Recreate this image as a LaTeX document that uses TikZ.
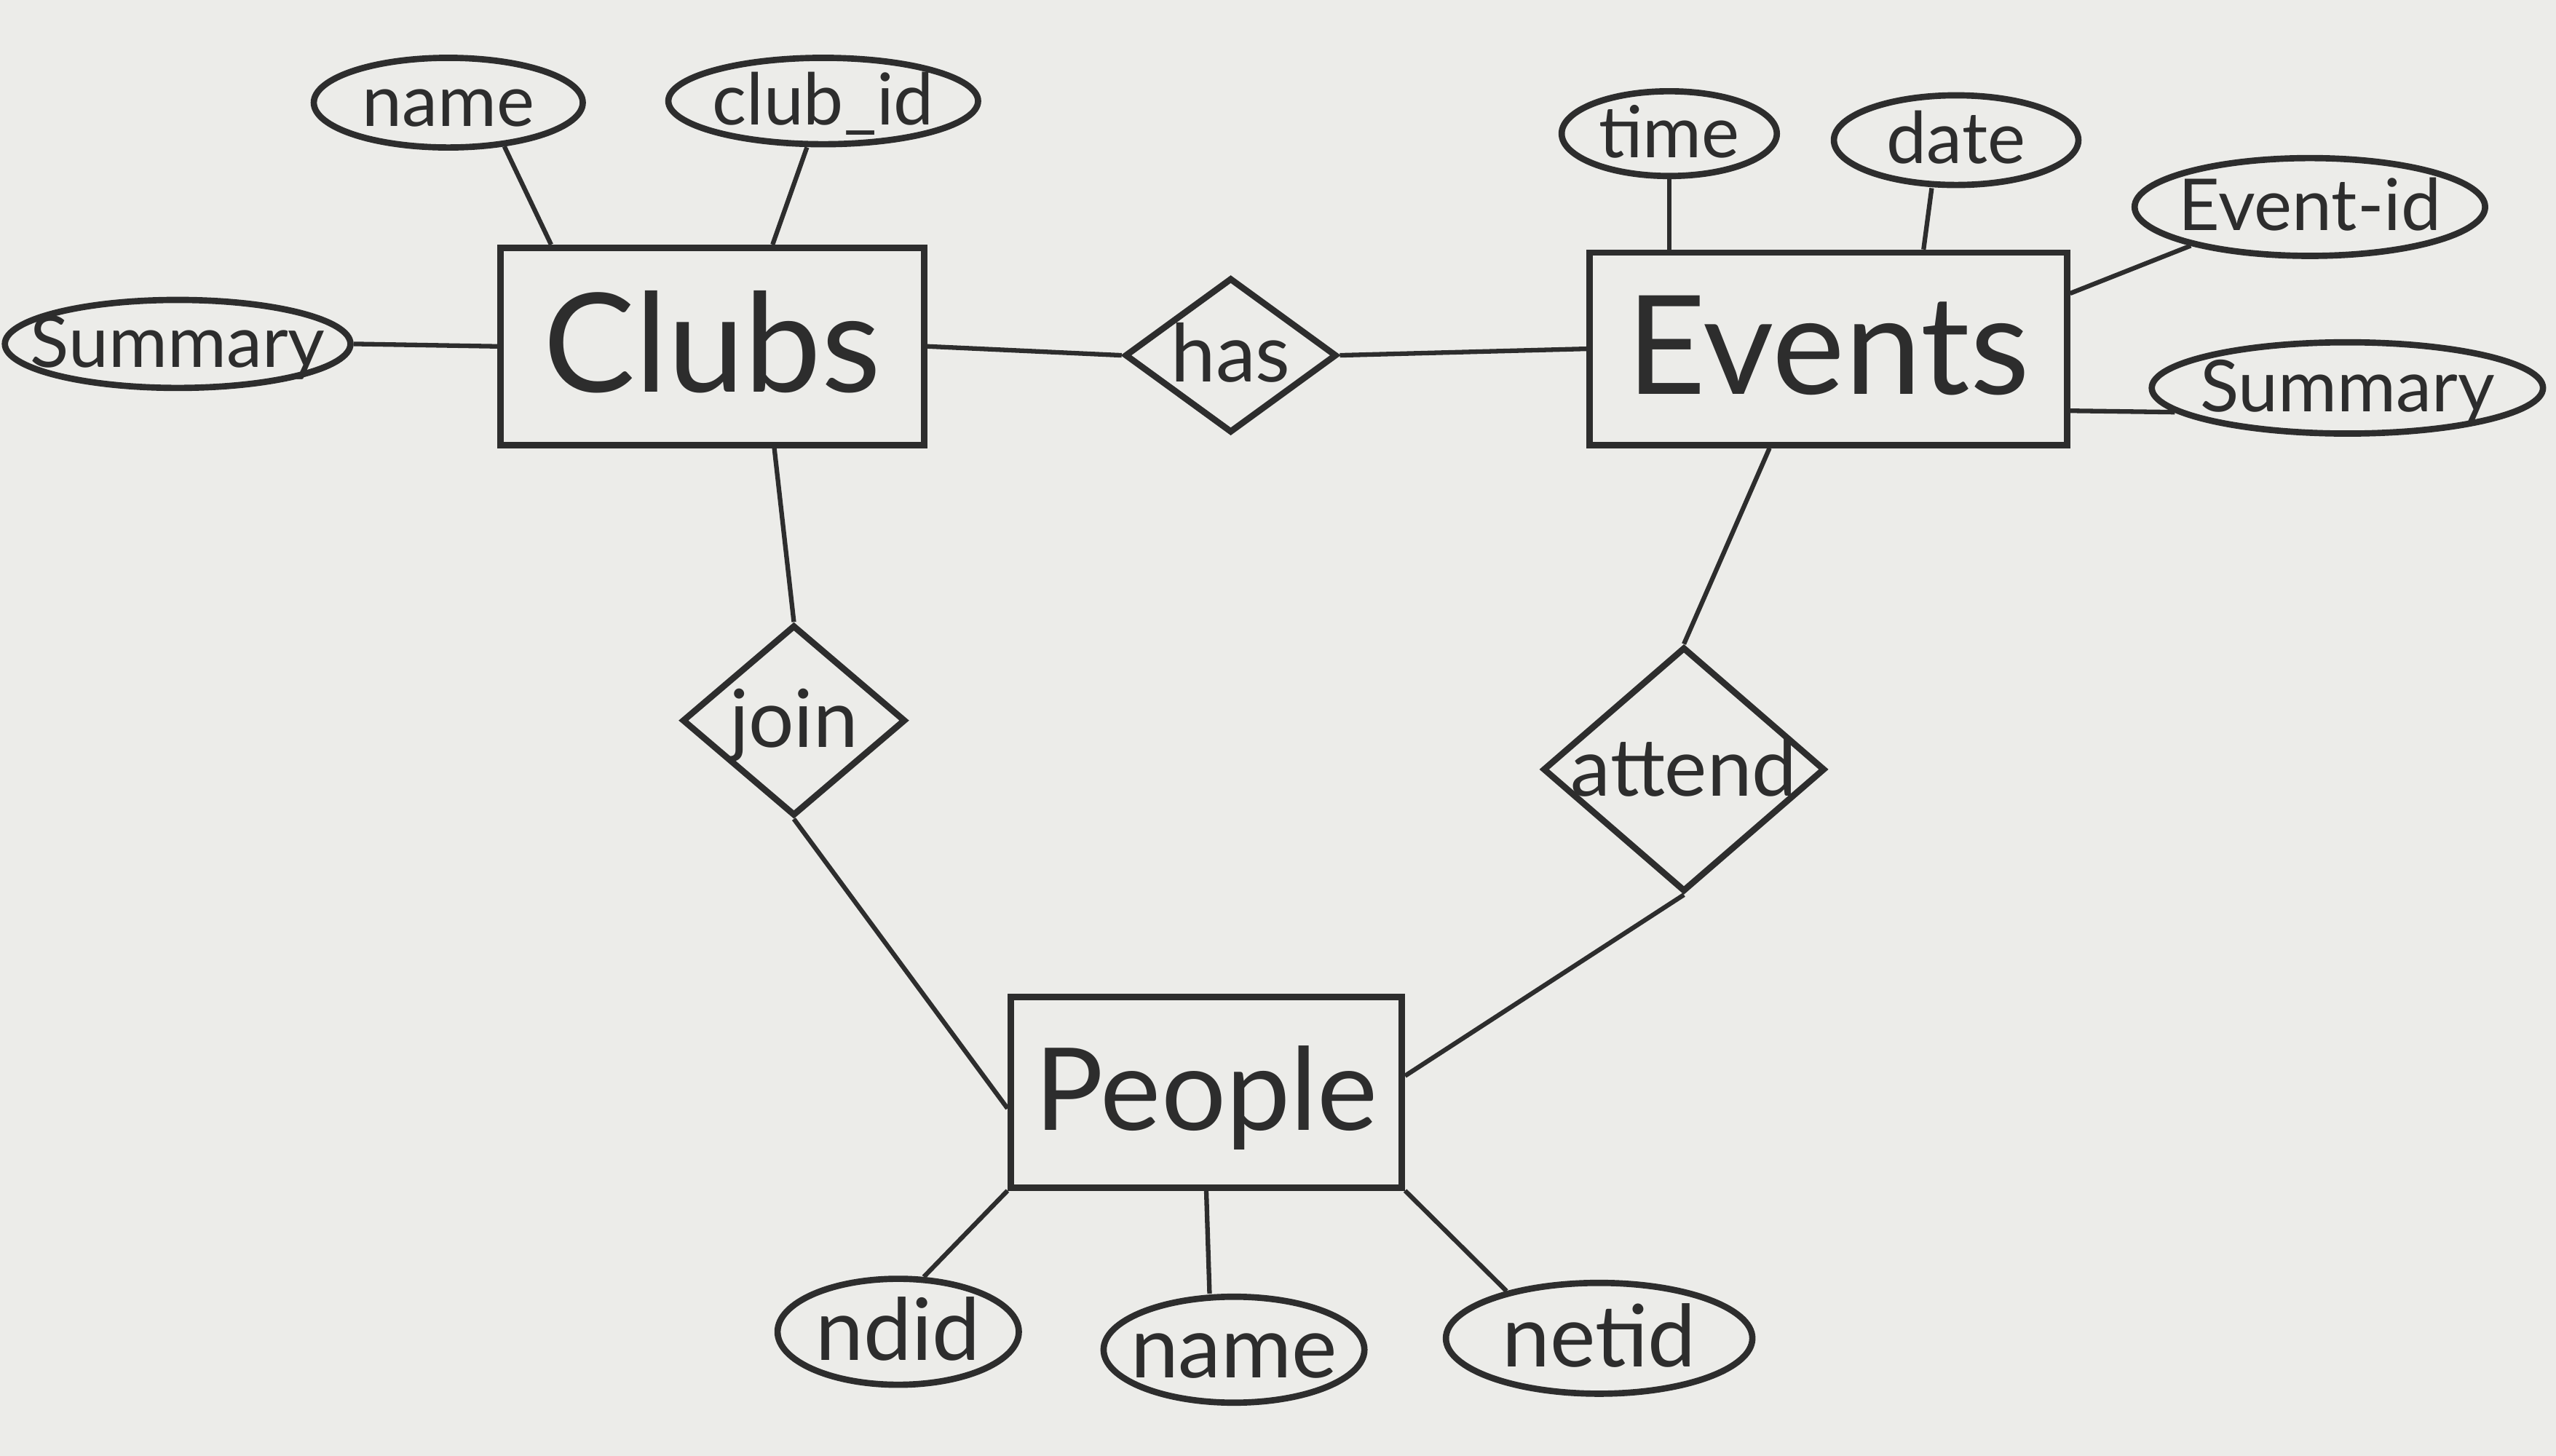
\documentclass[tikz,border=0pt]{standalone}
\usepackage{fontspec}
\setmainfont{Lato}
\usetikzlibrary{shapes.geometric}
\definecolor{paper}{RGB}{236,236,233}
\definecolor{pencil}{RGB}{45,45,45}
% text that does not stretch the shape round it
\newcommand{\ertext}[1]{\smash{\raisebox{-0.33em}{\makebox[0pt]{#1}}}}
\begin{document}
\begin{tikzpicture}[
    entity/.style={draw=pencil, text=pencil, line width=1.1pt, rectangle, inner sep=0pt, font=\fontsize{24}{28}\selectfont},
    relation/.style={draw=pencil, text=pencil, line width=1.1pt, diamond, inner sep=0pt, font=\fontsize{14}{16}\selectfont},
    attrib/.style={draw=pencil, text=pencil, line width=1.1pt, ellipse, inner sep=0pt, font=\fontsize{12.5}{15}\selectfont},
    link/.style={draw=pencil, line width=0.8pt}
]
    \fill[paper] (0,0) rectangle (15.68,8.93);
    \useasboundingbox (0,0) rectangle (15.68,8.93);

    % Entities
    \node[entity, minimum width=2.6cm, minimum height=1.21cm] (clubs) at (4.37,6.805) {\ertext{Clubs}};
    \node[entity, minimum width=2.93cm, minimum height=1.18cm] (events) at (11.215,6.79) {\ertext{Events}};
    \node[entity, minimum width=2.4cm, minimum height=1.17cm, font=\fontsize{20}{24}\selectfont] (people) at (7.40,2.23) {\ertext{People}};

    % Relationships
    \node[relation, minimum width=1.3cm, minimum height=0.95cm] (has) at (7.55,6.75) {\ertext{has}};
    \node[relation, minimum width=1.37cm, minimum height=1.17cm] (join) at (4.87,4.51) {\ertext{join}};
    \node[relation, minimum width=1.73cm, minimum height=1.5cm] (attend) at (10.33,4.21) {\ertext{attend}};

    % Attributes of Clubs
    \node[attrib, minimum width=1.65cm, minimum height=0.55cm] (cname) at (2.75,8.30) {\ertext{name}};
    \node[attrib, minimum width=1.9cm, minimum height=0.53cm] (clubid) at (5.05,8.31) {\ertext{club\_id}};
    \node[attrib, minimum width=2.12cm, minimum height=0.54cm] (csummary) at (1.09,6.82) {\ertext{Summary}};

    % Attributes of Events
    \node[attrib, minimum width=1.32cm, minimum height=0.52cm] (etime) at (10.24,8.11) {\ertext{time}};
    \node[attrib, minimum width=1.5cm, minimum height=0.55cm] (edate) at (12.00,8.07) {\ertext{date}};
    \node[attrib, minimum width=2.15cm, minimum height=0.6cm] (eventid) at (14.17,7.66) {\ertext{Event-id}};
    \node[attrib, minimum width=2.4cm, minimum height=0.56cm] (esummary) at (14.40,6.55) {\ertext{Summary}};

    % Attributes of People
    \node[attrib, minimum width=1.48cm, minimum height=0.65cm, font=\fontsize{15}{17}\selectfont] (ndid) at (5.51,0.76) {\ertext{ndid}};
    \node[attrib, minimum width=1.6cm, minimum height=0.65cm, font=\fontsize{15}{17}\selectfont] (pname) at (7.57,0.65) {\ertext{name}};
    \node[attrib, minimum width=1.88cm, minimum height=0.68cm, font=\fontsize{15}{17}\selectfont] (netid) at (9.81,0.72) {\ertext{netid}};

    % Relationship lines
    \draw[link] (clubs.east) -- (has.west);
    \draw[link] (has.east) -- (events.west);
    \draw[link] ([xshift=3.8mm]clubs.south) -- (join.north);
    \draw[link] (join.south) -- ([yshift=-1mm]people.west);
    \draw[link] ([xshift=-3.6mm]events.south) -- (attend.north);
    \draw[link] (attend.south) -- ([yshift=1mm]people.east);

    % Attribute lines
    \draw[link] (cname.-38) -- ([xshift=3.3mm]clubs.north west);
    \draw[link] ([xshift=-1mm]clubid.south) -- ([xshift=-9.5mm]clubs.north east);
    \draw[link] (csummary.east) -- (clubs.west);
    \draw[link] (etime.south) -- (etime.south |- events.north);
    \draw[link] ([xshift=-1.5mm]edate.south) -- ([xshift=5.85mm]events.north);
    \draw[link] (eventid.-162) -- ([yshift=3.4mm]events.east);
    \draw[link] ([yshift=-3.8mm]events.east) -- (esummary.188);
    \draw[link] (people.south west) -- (ndid.65);
    \draw[link] (people.south) -- ([xshift=-1.5mm]pname.north);
    \draw[link] (people.south east) -- (netid.153);
\end{tikzpicture}
\end{document}
